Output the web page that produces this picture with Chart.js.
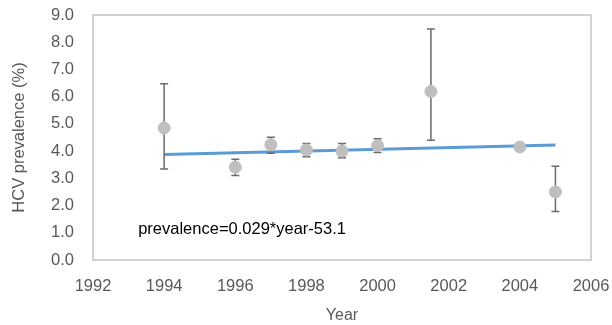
<!DOCTYPE html>
<html>
<head>
<meta charset="utf-8">
<script src="https://cdn.jsdelivr.net/npm/chart.js@4/dist/chart.umd.min.js"></script>
<style>
  body { margin: 0; background: #fff; }
  #wrap { width: 612px; height: 325px; }
</style>
</head>
<body>
<div id="wrap"><canvas id="hcvChart" width="612" height="325"></canvas></div>
<script>
// survey years and prevalence values
const years = [1994, 1996, 1997, 1998, 1999, 2000, 2001.5, 2004, 2005];
const prevalence = [4.85, 3.41, 4.23, 4.04, 4.0, 4.2, 6.19, 4.15, 2.5];
const upper = [6.47, 3.70, 4.51, 4.28, 4.28, 4.45, 8.49, 4.22, 3.44];
const lower = [3.34, 3.10, 3.92, 3.79, 3.76, 3.95, 4.40, 4.08, 1.78];

// trend line ends
const trendYears = [1994, 2005];
const trendValues = [3.88, 4.22];

const equationText = 'prevalence=0.029*year-53.1';
const equationPos = { x: 1993.27, y: 1.14 };

const greyText = '#595959';
const fontFamily = '"Liberation Sans", Arial, sans-serif';

// error bars drawn just before the markers
const errorBars = {
    id: 'errorBars',
    beforeDatasetDraw(chart, args) {
        if (args.index !== 0) return;
        const ctx = chart.ctx;
        const xs = chart.scales.x, ys = chart.scales.y;
        ctx.save();
        ctx.strokeStyle = '#6b6b6b';
        ctx.lineWidth = 1.5;
        years.forEach((yr, i) => {
            const px = xs.getPixelForValue(yr);
            const top = ys.getPixelForValue(upper[i]);
            const bot = ys.getPixelForValue(lower[i]);
            ctx.beginPath();
            ctx.moveTo(px, top); ctx.lineTo(px, bot);
            ctx.moveTo(px - 4, top); ctx.lineTo(px + 4, top);
            ctx.moveTo(px - 4, bot); ctx.lineTo(px + 4, bot);
            ctx.stroke();
        });
        ctx.restore();
    }
};

// box round the plot area plus the equation label
const plotBox = {
    id: 'plotBox',
    beforeDatasetsDraw(chart) {
        const a = chart.chartArea;
        const ctx = chart.ctx;
        ctx.save();
        ctx.strokeStyle = '#c4c4c4';
        ctx.lineWidth = 1.5;
        ctx.strokeRect(a.left, a.top, a.right - a.left, a.bottom - a.top);
        ctx.fillStyle = '#000';
        ctx.font = '16.5px ' + fontFamily;
        ctx.textBaseline = 'middle';
        ctx.fillText(equationText,
            chart.scales.x.getPixelForValue(equationPos.x),
            chart.scales.y.getPixelForValue(equationPos.y));
        ctx.restore();
    }
};

const ctx = document.getElementById('hcvChart').getContext('2d');
new Chart(ctx, {
    type: 'scatter',
    data: {
        datasets: [{
            label: 'HCV prevalence',
            data: years.map((yr, i) => ({ x: yr, y: prevalence[i] })),
            backgroundColor: '#bfbfbf',
            borderColor: '#bfbfbf',
            pointRadius: 6,
            pointHoverRadius: 6,
            order: 1
        }, {
            type: 'line',
            label: 'trend',
            data: trendYears.map((yr, i) => ({ x: yr, y: trendValues[i] })),
            borderColor: '#5b9bd5',
            borderWidth: 3,
            pointRadius: 0,
            fill: false,
            order: 2
        }]
    },
    options: {
        responsive: false,
        animation: false,
        layout: { padding: { top: 15, right: 21, left: 6, bottom: 0 } },
        plugins: { legend: { display: false }, tooltip: { enabled: false } },
        scales: {
            x: {
                type: 'linear',
                min: 1992,
                max: 2006,
                grid: { display: false, drawTicks: false },
                border: { display: false },
                ticks: {
                    stepSize: 2,
                    color: greyText,
                    padding: 17,
                    font: { size: 16.5, family: fontFamily },
                    callback: v => String(v)
                },
                title: {
                    display: true,
                    text: 'Year',
                    color: greyText,
                    font: { size: 16, family: fontFamily },
                    padding: { top: 4, bottom: 0 }
                },
                afterFit(scale) {
                    scale.height = 65;
                    scale.paddingLeft = 0;
                    scale.paddingRight = 0;
                }
            },
            y: {
                min: 0,
                max: 9,
                grid: { display: false, drawTicks: false },
                border: { display: false },
                ticks: {
                    stepSize: 1,
                    color: greyText,
                    padding: 19,
                    font: { size: 16.5, family: fontFamily },
                    callback: v => v.toFixed(1)
                },
                title: {
                    display: true,
                    text: 'HCV prevalence (%)',
                    color: greyText,
                    font: { size: 16.5, family: fontFamily }
                },
                afterFit(scale) {
                    scale.width = 87;
                    scale.paddingTop = 0;
                    scale.paddingBottom = 0;
                }
            }
        }
    },
    plugins: [errorBars, plotBox]
});
</script>
</body>
</html>
